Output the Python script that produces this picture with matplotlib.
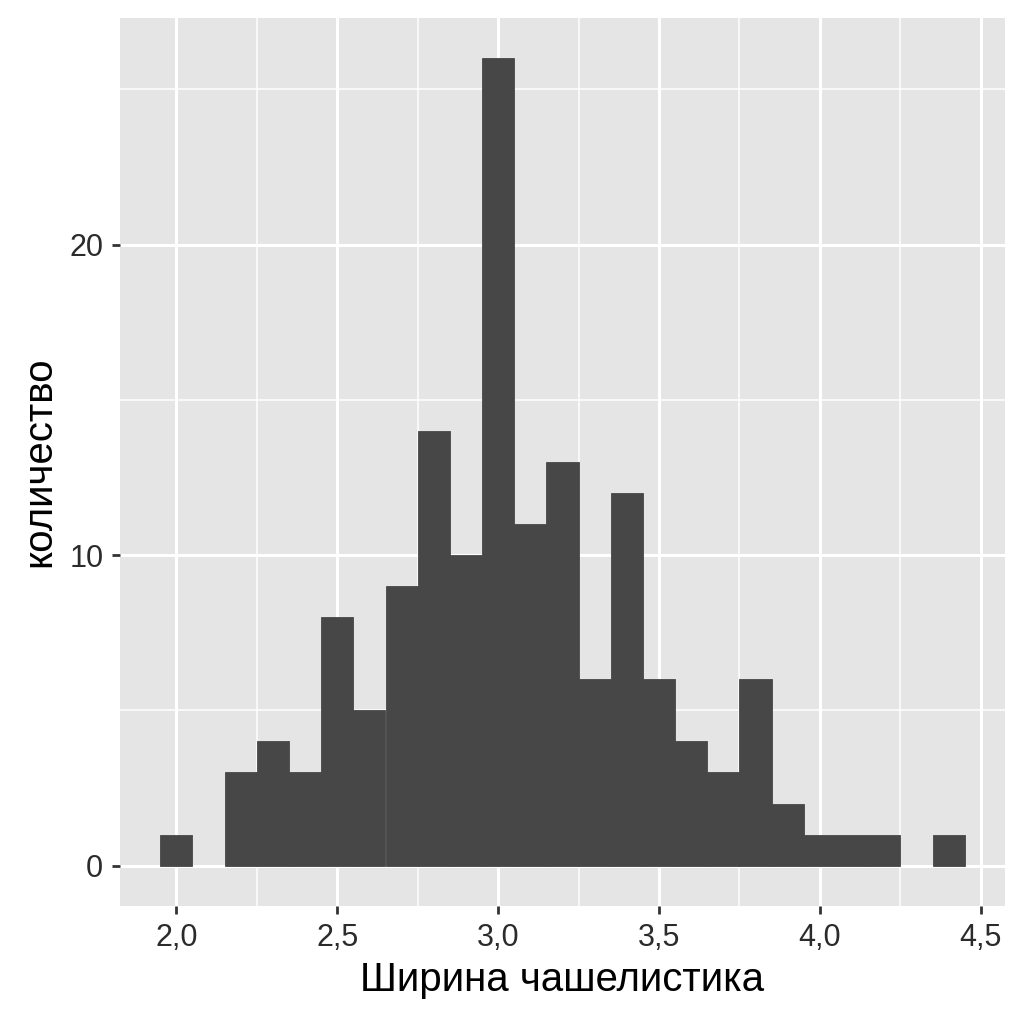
import numpy as np
import matplotlib
matplotlib.use('Agg')
import matplotlib.pyplot as plt
from matplotlib.ticker import FuncFormatter

# Sepal width histogram (binwidth 0.1)
bin_centers = [2.0, 2.1, 2.2, 2.3, 2.4, 2.5, 2.6, 2.7, 2.8, 2.9, 3.0, 3.1,
               3.2, 3.3, 3.4, 3.5, 3.6, 3.7, 3.8, 3.9, 4.0, 4.1, 4.2, 4.3, 4.4]
counts = [1, 0, 3, 4, 3, 8, 5, 9, 14, 10, 26, 11,
          13, 6, 12, 6, 4, 3, 6, 2, 1, 1, 1, 0, 1]
x_ticks = [2.0, 2.5, 3.0, 3.5, 4.0, 4.5]
y_ticks = [0, 10, 20]
x_label = 'Ширина чашелистика'
y_label = 'количество'

plt.rcParams['font.family'] = ['Liberation Sans', 'DejaVu Sans']

fig = plt.figure(figsize=(10.24, 10.24), dpi=100)
ax = fig.add_axes([120 / 1024, 1 - 906 / 1024, (1005 - 120) / 1024, (906 - 18) / 1024])
ax.set_facecolor('#e5e5e5')

# skip empty bins so they leave no outline on the zero line
centers = np.array(bin_centers)
heights = np.array(counts)
keep = heights > 0
ax.bar(centers[keep], heights[keep], width=0.1, color='#474747',
       edgecolor='#474747', linewidth=0.6, zorder=3)

xmin, xmax = 1.95 - 0.125, 4.45 + 0.125
ax.set_xlim(xmin, xmax)
ax.set_ylim(-1.3, 27.3)

ax.set_xticks(x_ticks)
ax.set_yticks(y_ticks)
ax.set_xticks(np.arange(2.25, 4.5, 0.5), minor=True)
ax.set_yticks([5, 15, 25], minor=True)
ax.xaxis.set_major_formatter(FuncFormatter(lambda v, p: f'{v:.1f}'.replace('.', ',')))

ax.grid(which='major', color='white', linewidth=2.2, zorder=0)
ax.grid(which='minor', color='white', linewidth=1.1, zorder=0)
ax.set_axisbelow(True)
for s in ax.spines.values():
    s.set_visible(False)

ax.tick_params(which='major', length=6, width=2, color='#333333',
               labelsize=22, labelcolor='#2b2b2b', pad=6)
ax.tick_params(which='minor', length=0)

ax.set_xlabel(x_label, fontsize=29, labelpad=6)
ax.set_ylabel(y_label, fontsize=29, labelpad=8)

fig.savefig('out.png', dpi=100, facecolor='white')
